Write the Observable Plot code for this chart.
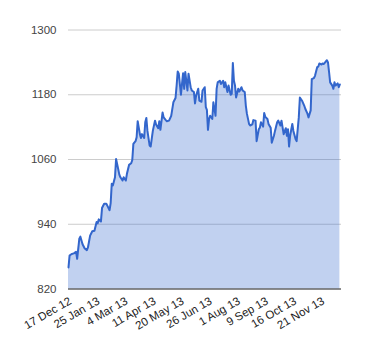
<!DOCTYPE html>
<html><head><meta charset="utf-8">
<script src="https://cdn.jsdelivr.net/npm/d3@7"></script>
<script src="https://cdn.jsdelivr.net/npm/@observablehq/plot@0.6"></script>
<style>body{margin:0;background:#fff}</style>
</head><body><div id="chart"></div>
<script>
const tickLabels = ["17 Dec 12","25 Jan 13","4 Mar 13","11 Apr 13","20 May 13","26 Jun 13","1 Aug 13","9 Sep 13","16 Oct 13","21 Nov 13"];
const tickDays = [0,26,52,78,104,130,156,182,208,234];
const yTicks = [820,940,1060,1180,1300];
const days = [0,1,3,5,7,8,10,11,13,15,17,18,20,22,24,26,27,28,30,31,33,35,36,38,39,40,41,43,44,46,47,48,50,51,53,54,56,58,59,60,62,63,64,66,67,68,70,71,72,73,75,76,78,80,81,83,84,85,87,88,90,91,93,95,97,99,100,101,102,104,105,106,107,108,110,111,113,114,116,117,118,120,121,123,124,126,127,128,129,130,131,133,134,136,137,138,140,141,143,144,145,147,148,150,151,152,153,154,155,157,158,160,161,163,164,165,167,168,170,171,173,174,176,177,178,180,181,182,184,185,187,188,190,191,193,194,196,197,199,201,202,203,204,205,207,208,210,211,213,214,216,218,219,221,222,224,225,227,228,230,231,232,234,235,236,237,239,240,241,242,244,245,246,247,249,250,251];
const values = [860,882,885,886,889,876,913,917,903,895,892,897,919,927,928,944,942,949,945,970,978,978,974,966,979,1015,1012,1027,1061,1042,1032,1027,1021,1027,1021,1033,1050,1053,1059,1089,1094,1101,1131,1107,1100,1107,1100,1129,1137,1113,1086,1084,1113,1132,1125,1118,1131,1115,1147,1138,1133,1131,1132,1141,1166,1174,1197,1223,1219,1180,1200,1220,1191,1222,1188,1219,1194,1188,1185,1164,1178,1191,1169,1167,1188,1194,1157,1152,1115,1135,1141,1135,1166,1141,1191,1203,1206,1200,1206,1194,1203,1185,1197,1180,1182,1239,1206,1197,1175,1191,1186,1194,1188,1185,1160,1145,1126,1123,1125,1133,1132,1094,1116,1119,1129,1121,1146,1139,1135,1126,1119,1091,1104,1113,1129,1132,1123,1132,1107,1118,1104,1116,1084,1104,1126,1113,1098,1094,1138,1175,1169,1160,1154,1145,1138,1151,1209,1211,1215,1231,1232,1238,1236,1238,1237,1239,1244,1240,1222,1203,1197,1191,1203,1197,1201,1194,1199];
const data = days.map((d, i) => ({day: d, value: values[i]}));

const chart = Plot.plot({
  width: 380, height: 360,
  marginLeft: 68, marginRight: 39, marginTop: 29.5, marginBottom: 71.5,
  style: {fontFamily: "'Liberation Sans', Arial, sans-serif", fontSize: "11.5px", color: "#333", background: "#fff"},
  x: {domain: [0, 252.5]},
  y: {domain: [820, 1300]},
  marks: [
    Plot.gridY(yTicks, {stroke: "#ccc", strokeOpacity: 1}),
    Plot.areaY(data, {x: "day", y1: 820, y2: "value", fill: "#3366cc", fillOpacity: 0.3}),
    Plot.lineY(data, {x: "day", y: "value", stroke: "#3366cc", strokeWidth: 2}),
    Plot.ruleY([820], {stroke: "#333"}),
    Plot.axisY(yTicks, {tickSize: 0, tickPadding: 12, tickFormat: d => String(d), label: null, fill: "#444"}),
    Plot.axisX(tickDays, {tickSize: 0, tickRotate: -30, tickPadding: 11, dx: 2, tickFormat: d => tickLabels[tickDays.indexOf(d)], label: null, fill: "#222"})
  ]
});
document.getElementById("chart").appendChild(chart);
</script>
</body></html>
